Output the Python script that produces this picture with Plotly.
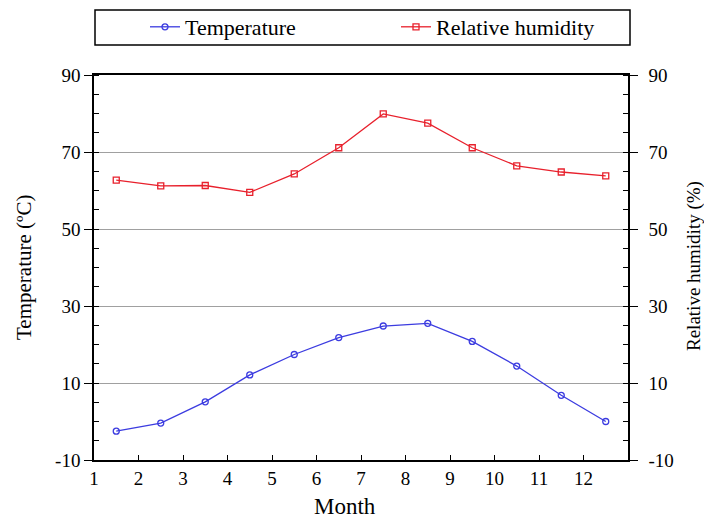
import plotly.graph_objects as go

months = [1.5, 2.5, 3.5, 4.5, 5.5, 6.5, 7.5, 8.5, 9.5, 10.5, 11.5, 12.5]
temperature = [-2.5, -0.4, 5.1, 12.1, 17.4, 21.8, 24.8, 25.5, 20.8, 14.4, 6.8, 0.0]
humidity = [62.7, 61.2, 61.3, 59.5, 64.3, 71.1, 79.9, 77.5, 71.1, 66.4, 64.8, 63.8]
x_ticks = list(range(1, 13))
y_ticks = [-10, 10, 30, 50, 70, 90]
y_ticktext = ["-10", "10", "30", "50", "70", "90"]

FONT = "Liberation Serif"
BLUE = "#3c3ce0"
RED = "#e8202c"

# page body has an 8px margin: figure is sized/offset to compensate
W, H = 704, 510
L, R, T, B = 86, 84, 67, 58
PW = W - L - R
PH = H - T - B

fig = go.Figure()
fig.add_trace(go.Scatter(
    x=months, y=temperature, name="Temperature", mode="lines+markers",
    line=dict(color=BLUE, width=1.3),
    marker=dict(symbol="circle-open", size=6, color=BLUE, line=dict(width=1.3)),
))
fig.add_trace(go.Scatter(
    x=months, y=humidity, name="Relative humidity", mode="lines+markers",
    yaxis="y2",
    line=dict(color=RED, width=1.3),
    marker=dict(symbol="square-open", size=6, color=RED, line=dict(width=1.3)),
))

axis_common = dict(
    range=[-10, 90], tickvals=y_ticks, ticktext=y_ticktext, showline=True,
    linecolor="black", linewidth=1.5, ticks="outside", ticklen=8,
    tickcolor="black", tickwidth=1.2, automargin=False,
    tickfont=dict(family=FONT, size=19, color="black"), zeroline=False,
    minor=dict(dtick=5, tick0=0, ticks="inside", ticklen=5, tickcolor="black",
               tickwidth=1, showgrid=False),
)

def px_x(ax):  # absolute page x -> paper x
    return (ax - 8 - L) / PW

def px_y(ay):  # absolute page y -> paper y
    return (H - B - (ay - 8)) / PH

fig.update_layout(
    width=W, height=H,
    margin=dict(l=L, r=R, t=T, b=B, autoexpand=False),
    plot_bgcolor="white", paper_bgcolor="white",
    font=dict(family=FONT, color="black"),
    xaxis=dict(
        range=[1, 13], tickvals=x_ticks, showline=True, mirror=True,
        linecolor="black", linewidth=1.5, ticks="inside", ticklen=5,
        tickcolor="black", showgrid=False, zeroline=False, automargin=False,
        tickfont=dict(family=FONT, size=19, color="black"),
    ),
    yaxis=dict(**axis_common, showgrid=True, gridcolor="#a0a0a0", gridwidth=1),
    yaxis2=dict(**axis_common, overlaying="y", side="right", showgrid=False,
                ticklabelstandoff=7),
    legend=dict(
        orientation="h", xref="container", yref="container",
        x=137 / W, xanchor="left", y=1 - 19 / H, yanchor="middle",
        entrywidth=206, entrywidthmode="pixels", bgcolor="rgba(0,0,0,0)",
        font=dict(family=FONT, size=22, color="black"), itemwidth=30,
    ),
    shapes=[dict(
        type="rect", xref="paper", yref="paper", x0=px_x(95), x1=px_x(630),
        y0=px_y(45), y1=px_y(10), line=dict(color="black", width=1.5),
    )],
    annotations=[
        dict(text="Month", xref="paper", yref="paper", x=px_x(345), y=px_y(506),
             xanchor="center", yanchor="middle", showarrow=False,
             font=dict(family=FONT, size=23)),
        dict(text="Temperature (ºC)", xref="paper", yref="paper", x=px_x(24),
             y=px_y(267), xanchor="center", yanchor="middle", showarrow=False,
             textangle=-90, font=dict(family=FONT, size=21)),
        dict(text="Relative humidity (%)", xref="paper", yref="paper", x=px_x(694),
             y=px_y(266), xanchor="center", yanchor="middle", showarrow=False,
             textangle=-90, font=dict(family=FONT, size=19)),
    ],
    showlegend=True,
)

fig.write_html("out.html")
